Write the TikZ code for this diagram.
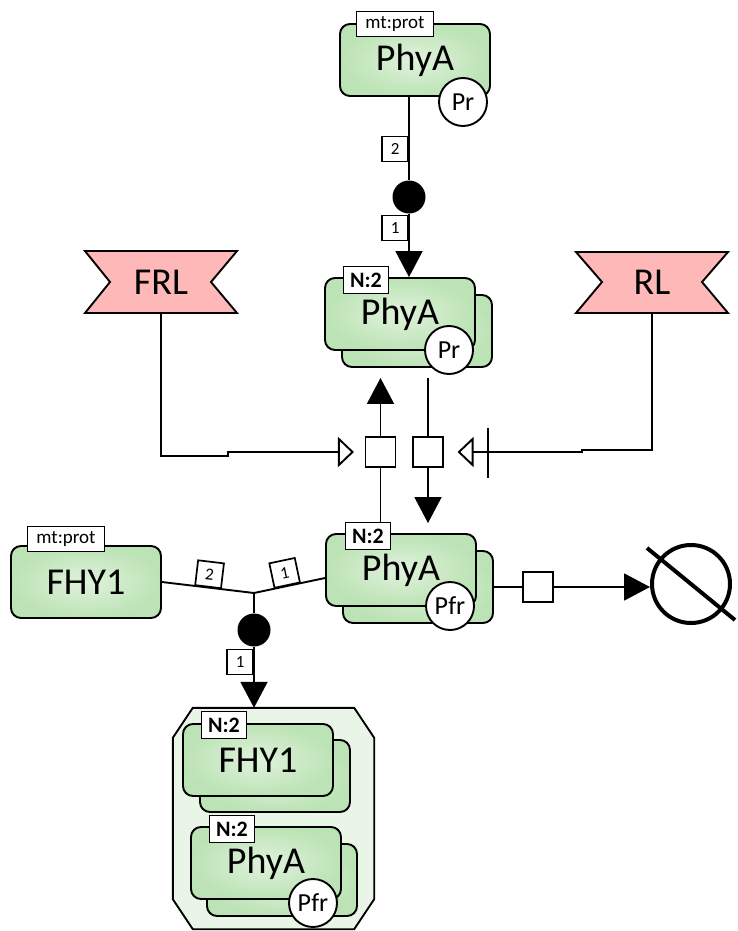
\documentclass[tikz,border=0pt]{standalone}
\usepackage{fontspec}
\setmainfont{Carlito}
\usetikzlibrary{arrows.meta,positioning,calc}

\definecolor{epnout}{RGB}{188,227,181}
\definecolor{epnin}{RGB}{224,242,220}
\definecolor{cplxfill}{RGB}{233,245,230}
\definecolor{tagfill}{RGB}{255,184,184}

\tikzset{
  epn/.style={draw, line width=1.9pt, rounded corners=10pt, inner color=epnin, outer color=epnout,
    minimum width=150pt, minimum height=72pt, inner sep=0pt, font=\fontsize{38}{38}\selectfont},
  uinfo/.style={draw, fill=white, line width=1.7pt, minimum width=77pt, minimum height=25pt,
    inner sep=0pt, font=\fontsize{19}{19}\selectfont},
  mult/.style={draw, fill=white, line width=1.7pt, minimum width=45pt, minimum height=27pt,
    inner sep=0pt, font=\fontsize{22}{22}\selectfont\bfseries},
  svar/.style={circle, draw, fill=white, line width=1.9pt, minimum size=48pt, inner sep=0pt,
    font=\fontsize{26}{26}\selectfont},
  card/.style={draw, fill=white, line width=1.7pt, minimum width=26pt, minimum height=25pt,
    inner sep=0pt, font=\fontsize{17}{17}\selectfont},
  proc/.style={draw, fill=white, line width=1.1pt, minimum size=30pt, inner sep=0pt},
  assocdot/.style={circle, fill=black, minimum size=33pt, inner sep=0pt},
  tagtxt/.style={minimum width=152pt, minimum height=62pt, inner sep=0pt, font=\fontsize{38}{38}\selectfont},
  tagshape/.style={draw, fill=tagfill, line width=1.9pt},
  conn/.style={line width=1.9pt},
  prod/.style={conn, -{Triangle[length=26pt,width=27pt]}},
  stim/.style={conn, -{Triangle[open,length=16pt,width=30pt]}},
}

\begin{document}
\begin{tikzpicture}[x=1pt,y=-1pt]
  \useasboundingbox (0,0) rectangle (737,931);

  % PhyA monomer
  \node[epn] (phyTop) at (415,60) {PhyA};
  \node[uinfo] (uTop) at (395,24) {mt:prot};
  \node[svar] (svTop) at (463,102) {Pr};

  % PhyA dimers, Pr and Pfr
  \node[epn] (phyMidB) at (417,331) {};
  \node[epn] (phyMid) at (400,314) {PhyA};
  \node[mult] (nMid) at (366,280) {N:2};
  \node[svar] (svMid) at (449,350) {Pr};

  \node[epn] (phyLowB) at (418,587) {};
  \node[epn] (phyLow) at (401,570) {PhyA};
  \node[mult] (nLow) at (368,536) {N:2};
  \node[svar] (svLow) at (450,606) {Pfr};

  % FHY1
  \node[epn] (fhy) at (86,582) {FHY1};
  \node[uinfo] (uFhy) at (66,539) {mt:prot};

  % complex of both dimers
  \node[minimum width=201pt, minimum height=221pt, inner sep=0pt] (cplx) at (273.5,818.5) {};
  \draw[fill=cplxfill, line width=1.9pt]
    ([xshift=20pt]cplx.north west) -- ([xshift=-20pt]cplx.north east)
    -- ([yshift=-30pt]cplx.north east) -- ([yshift=30pt]cplx.south east)
    -- ([xshift=-20pt]cplx.south east) -- ([xshift=20pt]cplx.south west)
    -- ([yshift=30pt]cplx.south west) -- ([yshift=-30pt]cplx.north west) -- cycle;
  \node[epn] (fhyCB) at (275,776) {};
  \node[epn] (fhyC) at (258,760) {FHY1};
  \node[mult] (nFhyC) at (224,725) {N:2};
  \node[epn] (phyCB) at (282,880) {};
  \node[epn] (phyC) at (266,863) {PhyA};
  \node[mult] (nPhyC) at (232,829) {N:2};
  \node[svar] (svPhyC) at (313,903) {Pfr};

  % light signals
  \draw[tagshape] (85,251) -- (237,251) -- (211,282) -- (237,313) -- (85,313) -- (110,282) -- cycle;
  \node[tagtxt] (frl) at (161,282) {FRL};
  \draw[tagshape] (576,252) -- (728,252) -- (702,282) -- (728,313) -- (576,313) -- (602,282) -- cycle;
  \node[tagtxt] (rl) at (652,282) {RL};

  % sink
  \node[circle, draw, line width=4pt, minimum size=78pt] (sink) at (691,584) {};
  \draw[line width=4pt] ($(sink)+(-44,-36)$) -- ($(sink)+(44,36)$);

  % process and association glyphs
  \node[proc] (p1) at (380.5,452) {};
  \node[proc] (p2) at (428,452) {};
  \node[proc] (p3) at (538,587) {};
  \node[assocdot] (dTop) at (409,197) {};
  \node[assocdot] (dLow) at (254,630) {};
  \coordinate (junc) at (254,593);

  % dimerisation
  \draw[conn] (phyTop.south -| dTop) -- (dTop);
  \draw[prod] (dTop) -- (dTop |- phyMid.north);
  \node[card, anchor=east] (cTop2) at (409,149) {2};
  \node[card, anchor=east] (cTop1) at (409,228) {1};

  % binding of FHY1
  \draw[conn] (fhy.east) -- node[card, sloped, anchor=south, pos=0.5] (cFhy) {2} (junc);
  \draw[conn] (junc) -- node[card, sloped, anchor=south, pos=0.47] (cPhy) {1} ([yshift=-8pt]phyLow.west);
  \draw[conn] (junc) -- (dLow);
  \draw[prod] (dLow) -- (dLow |- cplx.north);
  \node[card, anchor=east] (cLow1) at (254,662) {1};

  % Pr <-> Pfr conversion
  \draw[conn] (p1.south) -- (p1 |- nLow.north);
  \draw[prod, shorten >=10pt] (p1.north) -- (p1 |- phyMidB.south);
  \draw[conn, shorten <=10pt] (p2 |- phyMidB.south) -- (p2.north);
  \draw[prod, shorten >=10pt] (p2.south) -- (p2 |- phyLow.north);

  \coordinate (frlJog) at (228,456);
  \draw[stim, shorten >=11pt] (frl.south) |- (frlJog) -- (frlJog |- p1.west) -- (p1.west);
  \coordinate (rlJog) at (582,450);
  \draw[stim, shorten >=14pt] (rl.south) |- (rlJog) -- (rlJog |- p2.east) -- (p2.east);
  \coordinate (rlBar) at (488,453);
  \draw[conn] ([yshift=25pt]rlBar) -- ([yshift=-25pt]rlBar);

  % degradation
  \draw[conn] (phyLowB.east |- p3) -- (p3.west);
  \draw[prod] (p3.east) -- (p3.east -| sink.west);
\end{tikzpicture}
\end{document}
